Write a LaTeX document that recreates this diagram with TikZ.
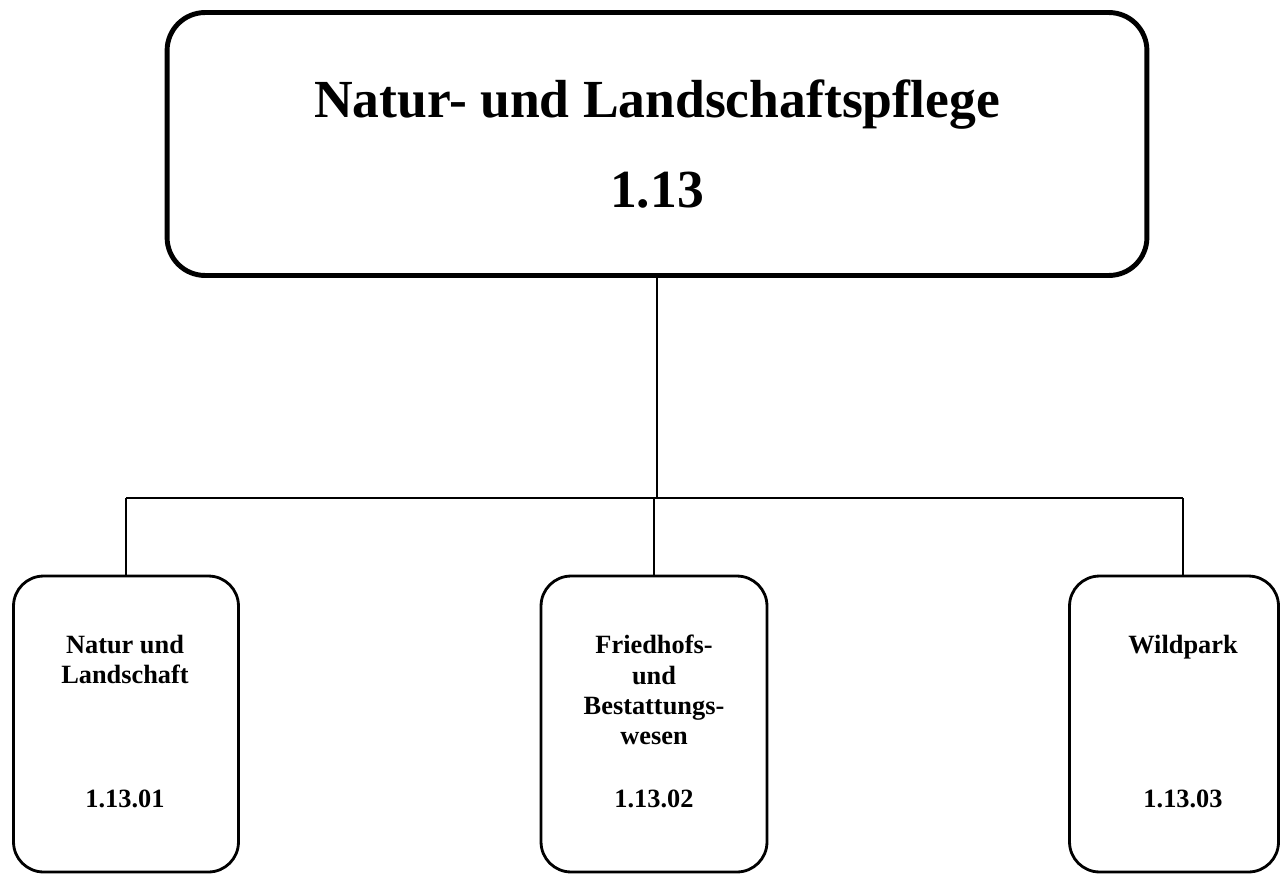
\documentclass[tikz,border=0pt]{standalone}
\usepackage{fontspec}
\setmainfont{Liberation Serif}
\usepackage{tikz}
\usetikzlibrary{positioning}

\begin{document}
\begin{tikzpicture}[
    x=0.02cm, y=-0.02cm,
    mainbox/.style={draw, line width=2.8pt, rounded corners=0.76cm, minimum width=19.6cm, minimum height=5.26cm, align=center, font=\fontsize{30.5}{51.6}\selectfont\bfseries},
    subbox/.style={draw, line width=1.6pt, rounded corners=0.6cm, minimum width=#1, minimum height=5.92cm},
    subtitle/.style={anchor=north, inner sep=0pt, align=center, font=\fontsize{15}{17.2}\selectfont\bfseries},
    subcode/.style={anchor=base, inner sep=0pt, font=\fontsize{15}{17.2}\selectfont\bfseries},
    link/.style={line width=1.6pt}
]
\useasboundingbox (0,0) rectangle (1280,875);

% Top unit
\node[mainbox] (main) at (657,144) {Natur- und Landschaftspflege\\1.13};

% Sub units
\node[subbox=4.5cm] (natur) at (126,724) {};
\node[subbox=4.52cm] (friedhof) at (654,724) {};
\node[subbox=4.18cm] (wild) at (1174,724) {};

% Texts of the sub units
\node[subtitle] (naturtext) at (125,635) {Natur und\\Landschaft};
\node[subcode] (naturcode) at (125,807) {1.13.01};
\node[subtitle] (friedhoftext) at (654,635) {Friedhofs-\\und\\Bestattungs-\\wesen};
\node[subcode] (friedhofcode) at (654,807) {1.13.02};
\node[subtitle] (wildtext) at (1183,635) {Wildpark};
\node[subcode] (wildcode) at (1183,807) {1.13.03};

% Connectors
\coordinate (busL) at (126,498);
\coordinate (busR) at (1183,498);
\draw[link] (main.south) -- (main.south |- busL);
\draw[link] (busL) -- (busR);
\draw[link] (busL) -- (natur.north);
\draw[link] (friedhof.north |- busL) -- (friedhof.north);
\draw[link] (busR) -- (busR |- wild.north);
\end{tikzpicture}
\end{document}
